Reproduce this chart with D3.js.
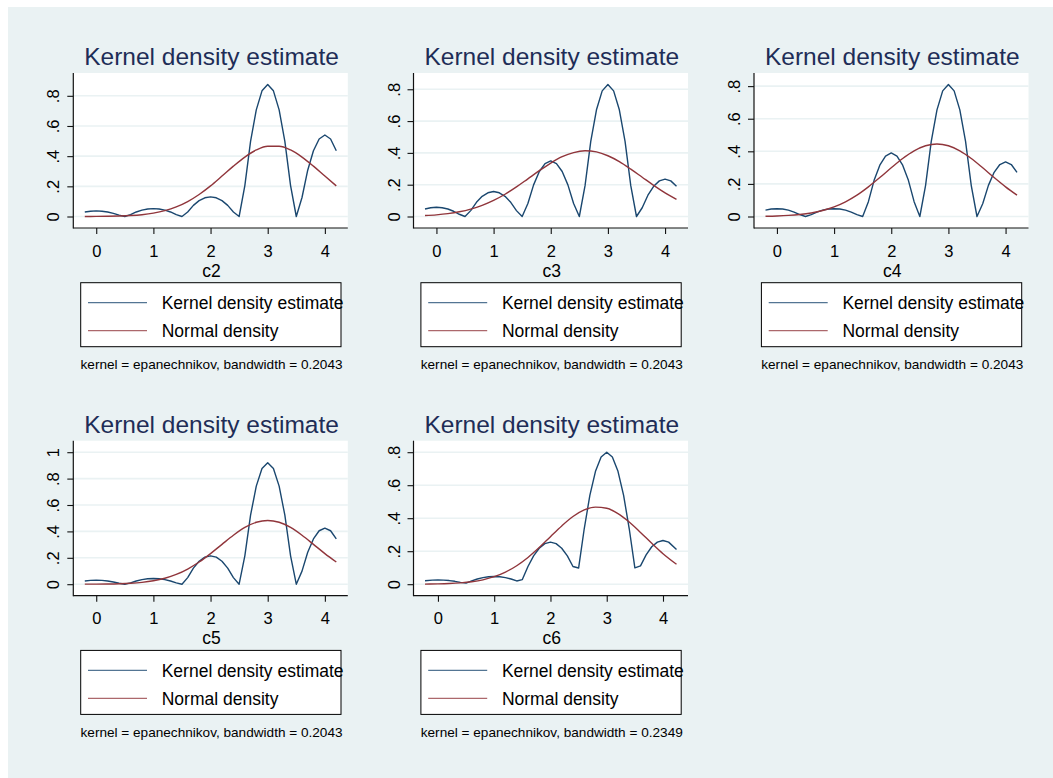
<!DOCTYPE html>
<html>
<head>
<meta charset="utf-8">
<script src="https://cdn.jsdelivr.net/npm/d3@7/dist/d3.min.js"></script>
<style>
  html, body { margin: 0; padding: 0; background: #ffffff; }
  svg { display: block; font-family: "Liberation Sans", Arial, sans-serif; }
</style>
</head>
<body>
<svg id="chart" width="1053" height="778"></svg>
<script>
// ---------------- DATA ----------------
const variables = ["c2", "c3", "c4", "c5", "c6"];
const bandwidths = ["0.2043", "0.2043", "0.2043", "0.2043", "0.2349"];
const chartTitle = "Kernel density estimate";
const legendLabels = ["Kernel density estimate", "Normal density"];

const xTicks = [0, 1, 2, 3, 4];
const xTickLabels = ["0", "1", "2", "3", "4"];
const yTicks = [0, 0.2, 0.4, 0.6, 0.8];
const yTickLabels = ["0", ".2", ".4", ".6", ".8"];
const yTicksC5 = [0, 0.2, 0.4, 0.6, 0.8, 1];
const yTickLabelsC5 = ["0", ".2", ".4", ".6", ".8", "1"];

// evaluation grid of the kernel density estimates
const gridX = [-0.2,-0.1,0,0.1,0.2,0.3,0.4,0.5,0.6,0.7,0.8,0.9,1.0,1.1,1.2,1.3,1.4,1.5,1.6,1.7,1.8,1.9,2.0,
  2.1,2.2,2.3,2.4,2.5,2.6,2.7,2.8,2.9,3.0,3.1,3.2,3.3,3.4,3.5,3.6,3.7,3.8,3.9,4.0,4.1,4.2];
const gridX6 = [-0.23,-0.1,0,0.1,0.2,0.3,0.4,0.5,0.6,0.7,0.8,0.9,1.0,1.1,1.2,1.3,1.4,1.5,1.6,1.7,1.8,1.9,2.0,
  2.1,2.2,2.3,2.4,2.5,2.6,2.7,2.8,2.9,3.0,3.1,3.2,3.3,3.4,3.5,3.6,3.7,3.8,3.9,4.0,4.1,4.24];

const kdeC2 = [0.030,0.035,0.037,0.035,0.030,0.021,0.009,0,0.012,0.030,0.042,0.0495,0.052,0.0495,0.042,0.030,0.012,0,
  0.030,0.074,0.105,0.124,0.130,0.124,0.105,0.074,0.030,0,0.205,0.498,0.707,0.833,0.875,0.833,0.707,0.498,0.205,0,
  0.126,0.307,0.436,0.514,0.540,0.514,0.436];
const kdeC3 = [0.047,0.055,0.058,0.055,0.047,0.033,0.014,0,0.037,0.089,0.127,0.149,0.157,0.149,0.127,0.089,0.037,0,
  0.082,0.199,0.283,0.333,0.350,0.333,0.283,0.199,0.082,0,0.194,0.472,0.671,0.790,0.830,0.790,0.671,0.472,0.194,0,
  0.055,0.134,0.190,0.224,0.235,0.224,0.190];
const kdeC4 = [0.039,0.046,0.048,0.046,0.039,0.027,0.011,0,0.011,0.027,0.039,0.046,0.048,0.046,0.039,0.027,0.011,0,
  0.091,0.222,0.315,0.371,0.390,0.371,0.315,0.222,0.091,0,0.190,0.461,0.654,0.771,0.810,0.771,0.654,0.461,0.190,0,
  0.078,0.191,0.271,0.319,0.335,0.319,0.271];
const kdeC5 = [0.024,0.029,0.030,0.029,0.024,0.017,0.007,0,0.010,0.024,0.035,0.041,0.043,0.041,0.035,0.024,0.010,0,
  0.050,0.122,0.174,0.205,0.215,0.205,0.174,0.122,0.050,0,0.215,0.523,0.743,0.876,0.920,0.876,0.743,0.523,0.215,0,
  0.099,0.242,0.343,0.405,0.425,0.405,0.343];
const kdeC6 = [0.021,0.025,0.026,0.025,0.022,0.0175,0.011,0.0068,0.0197,0.0316,0.040,0.045,0.047,0.045,0.040,0.0316,0.0197,0.028,
  0.107,0.172,0.218,0.246,0.255,0.246,0.218,0.172,0.107,0.098,0.336,0.538,0.684,0.771,0.800,0.771,0.684,0.538,0.336,0.099,
  0.111,0.178,0.227,0.255,0.265,0.255,0.210];

// evaluation grid of the normal densities
const normX = [-0.2,0,0.2,0.4,0.6,0.8,1.0,1.2,1.4,1.6,1.8,2.0,2.2,2.4,2.6,2.8,3.0,3.2,3.4,3.6,3.8,4.0,4.2];
const normX6 = [-0.23,0,0.2,0.4,0.6,0.8,1.0,1.2,1.4,1.6,1.8,2.0,2.2,2.4,2.6,2.8,3.0,3.2,3.4,3.6,3.8,4.0,4.24];

const normC2 = [0.0003,0.0006,0.0014,0.003,0.0062,0.012,0.022,0.0385,0.0635,0.099,0.146,0.203,0.268,0.334,0.394,
  0.441,0.466,0.466,0.441,0.394,0.334,0.268,0.203];
const normC3 = [0.0058,0.0104,0.0179,0.0295,0.0464,0.070,0.101,0.140,0.186,0.237,0.288,0.336,0.376,0.402,0.413,
  0.406,0.382,0.345,0.298,0.247,0.196,0.149,0.108];
const normC4 = [0.0016,0.0034,0.0066,0.0123,0.0218,0.0369,0.0592,0.0904,0.131,0.182,0.239,0.299,0.356,0.403,0.434,
  0.445,0.434,0.403,0.356,0.299,0.239,0.182,0.131];
const normC5 = [0.0003,0.0007,0.0015,0.0034,0.0071,0.0139,0.0258,0.045,0.074,0.115,0.168,0.232,0.302,0.371,0.430,
  0.469,0.483,0.469,0.430,0.371,0.302,0.232,0.168];
const normC6 = [0.0007,0.0018,0.0039,0.0078,0.0148,0.0266,0.0454,0.0734,0.112,0.162,0.222,0.288,0.353,0.410,0.450,
  0.467,0.460,0.428,0.377,0.314,0.248,0.185,0.121];

// ---------------- LAYOUT ----------------
const panels = [
  { v: variables[0], bw: bandwidths[0], kx: gridX,  ky: kdeC2, nx: normX,  ny: normC2, yt: yTicks,   yl: yTickLabels,   col: 0, row: 0 },
  { v: variables[1], bw: bandwidths[1], kx: gridX,  ky: kdeC3, nx: normX,  ny: normC3, yt: yTicks,   yl: yTickLabels,   col: 1, row: 0 },
  { v: variables[2], bw: bandwidths[2], kx: gridX,  ky: kdeC4, nx: normX,  ny: normC4, yt: yTicks,   yl: yTickLabels,   col: 2, row: 0 },
  { v: variables[3], bw: bandwidths[3], kx: gridX,  ky: kdeC5, nx: normX,  ny: normC5, yt: yTicksC5, yl: yTickLabelsC5, col: 0, row: 1 },
  { v: variables[4], bw: bandwidths[4], kx: gridX6, ky: kdeC6, nx: normX6, ny: normC6, yt: yTicks,   yl: yTickLabels,   col: 1, row: 1 }
];

const colLeft = [73.3, 413.5, 754];
const rowTop = [73, 440.7];
const plotW = 274.5, plotH = 155;
const pad = 11.5;

const BLUE = "#1a476f", RED = "#90353b";
const TITLE_C = "#1e2d57";
const BG = "#eaf2f3";

const svg = d3.select("#chart");
svg.append("rect").attr("x", 8).attr("y", 7).attr("width", 1045).attr("height", 771).attr("fill", BG);

panels.forEach(p => {
  const L = colLeft[p.col], T = rowTop[p.row], B = T + plotH, R = L + plotW;
  const g = svg.append("g");

  const x = d3.scaleLinear()
    .domain([p.kx[0], p.kx[p.kx.length - 1]])
    .range([L + pad, R - pad]);
  const yMax = Math.max(d3.max(p.ky), d3.max(p.yt));
  const y = d3.scaleLinear().domain([0, yMax]).range([B - pad, T + pad]);

  // plot region
  g.append("rect").attr("x", L).attr("y", T).attr("width", plotW).attr("height", plotH).attr("fill", "#ffffff");

  // gridlines
  g.selectAll(".grid").data(p.yt).enter().append("line")
    .attr("x1", L).attr("x2", R)
    .attr("y1", d => y(d)).attr("y2", d => y(d))
    .attr("stroke", BG).attr("stroke-width", 1.6);

  // curves
  const kLine = d3.line().x(d => x(d[0])).y(d => y(d[1])).curve(d3.curveLinear);
  const nLine = d3.line().x(d => x(d[0])).y(d => y(d[1])).curve(d3.curveMonotoneX);
  g.append("path").attr("d", kLine(p.kx.map((xx, i) => [xx, p.ky[i]])))
    .attr("fill", "none").attr("stroke", BLUE).attr("stroke-width", 1.4).attr("stroke-linejoin", "round");
  g.append("path").attr("d", nLine(p.nx.map((xx, i) => [xx, p.ny[i]])))
    .attr("fill", "none").attr("stroke", RED).attr("stroke-width", 1.4);

  // axes
  const xAxis = d3.axisBottom(x).tickValues(xTicks).tickFormat((d, i) => xTickLabels[i]).tickSize(6).tickSizeOuter(0);
  const gx = g.append("g").attr("transform", `translate(0,${B})`).call(xAxis);
  gx.select(".domain").remove();
  gx.selectAll(".tick line").attr("stroke", "#111").attr("stroke-width", 1.1);
  gx.selectAll(".tick text").attr("y", 28.5).attr("dy", 0)
    .attr("font-size", 16.5).attr("fill", "#000").attr("font-family", "Liberation Sans, Arial, sans-serif");

  const yAxis = d3.axisLeft(y).tickValues(p.yt).tickFormat((d, i) => p.yl[i]).tickSize(6).tickSizeOuter(0);
  const gy = g.append("g").attr("transform", `translate(${L},0)`).call(yAxis);
  gy.select(".domain").remove();
  gy.selectAll(".tick line").attr("stroke", "#111").attr("stroke-width", 1.1);
  gy.selectAll(".tick text")
    .attr("transform", "rotate(-90)")
    .attr("x", 0).attr("y", -14).attr("dy", 0)
    .attr("text-anchor", "middle")
    .attr("font-size", 16.5).attr("fill", "#000").attr("font-family", "Liberation Sans, Arial, sans-serif");

  // axis lines
  g.append("line").attr("x1", L).attr("x2", L).attr("y1", T).attr("y2", B + 0.5)
    .attr("stroke", "#111").attr("stroke-width", 1.2);
  g.append("line").attr("x1", L).attr("x2", R).attr("y1", B).attr("y2", B)
    .attr("stroke", "#111").attr("stroke-width", 1.2);

  const cx = L + plotW / 2 + 1;

  // title
  g.append("text").attr("x", cx).attr("y", T - 8).attr("text-anchor", "middle")
    .attr("font-size", 24.5).attr("fill", TITLE_C).text(chartTitle);

  // x axis title
  g.append("text").attr("x", cx).attr("y", B + 48.5).attr("text-anchor", "middle")
    .attr("font-size", 17.5).attr("fill", "#000").text(p.v);

  // legend
  const lg = g.append("g");
  lg.append("rect").attr("x", L + 7.4).attr("y", B + 54.7).attr("width", 260.3).attr("height", 64)
    .attr("fill", "#ffffff").attr("stroke", "#000").attr("stroke-width", 1);
  const legendColors = [BLUE, RED];
  legendLabels.forEach((lab, i) => {
    const ly = B + 74.7 + i * 28;
    lg.append("line").attr("x1", L + 14.7).attr("x2", L + 73.7).attr("y1", ly).attr("y2", ly)
      .attr("stroke", legendColors[i]).attr("stroke-width", 1.3).attr("stroke-opacity", 0.75);
    lg.append("text").attr("x", L + 88.4).attr("y", ly + 6.5)
      .attr("font-size", 17.5).attr("fill", "#000").text(lab);
  });

  // note
  g.append("text").attr("x", cx).attr("y", B + 141).attr("text-anchor", "middle")
    .attr("font-size", 13.6).attr("fill", "#000")
    .text(`kernel = epanechnikov, bandwidth = ${p.bw}`);
});
</script>
</body>
</html>
